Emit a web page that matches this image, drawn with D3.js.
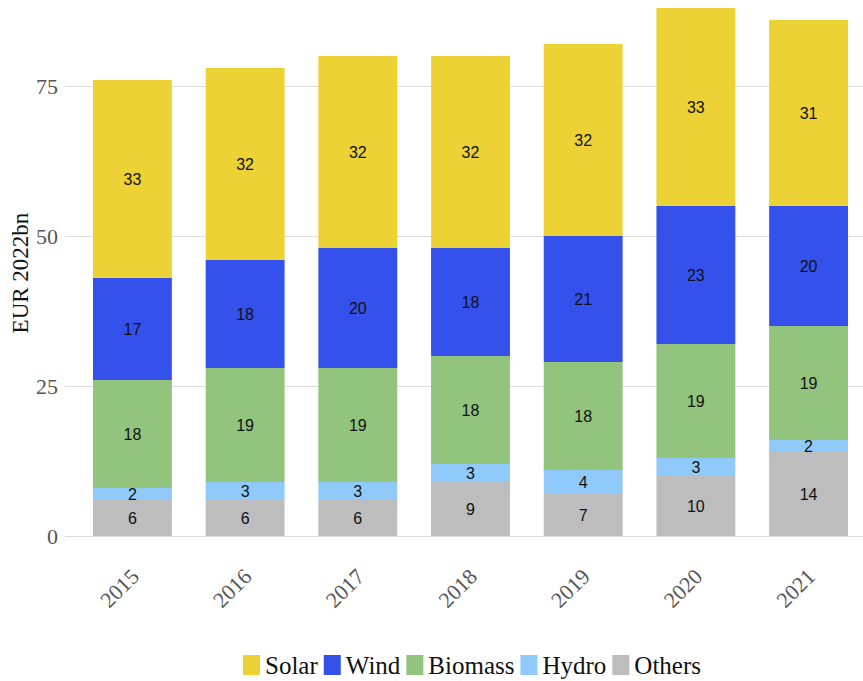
<!DOCTYPE html>
<html>
<head>
<meta charset="utf-8">
<script src="https://cdn.jsdelivr.net/npm/d3@7"></script>
<style>
  body { margin: 0; background: #fff; }
  svg { display: block; }
</style>
</head>
<body>
<svg id="chart" width="863" height="681"></svg>
<script>
var years = ["2015", "2016", "2017", "2018", "2019", "2020", "2021"];
var series = ["Others", "Hydro", "Biomass", "Wind", "Solar"];
var others  = [6, 6, 6, 9, 7, 10, 14];
var hydro   = [2, 3, 3, 3, 4, 3, 2];
var biomass = [18, 19, 19, 18, 18, 19, 19];
var wind    = [17, 18, 20, 18, 21, 23, 20];
var solar   = [33, 32, 32, 32, 32, 33, 31];
var yTicks = [0, 25, 50, 75];
var legendOrder = ["Solar", "Wind", "Biomass", "Hydro", "Others"];

var colors = {
    "Solar": "#ecd234",
    "Wind": "#3452eb",
    "Biomass": "#93c47d",
    "Hydro": "#8fcafb",
    "Others": "#bdbdbd"
};

var table = years.map(function(y, i) {
    return {year: y, Others: others[i], Hydro: hydro[i], Biomass: biomass[i], Wind: wind[i], Solar: solar[i]};
});

var svg = d3.select("#chart");
var serif = "'Liberation Serif', 'Times New Roman', serif";
var sans = "'Liberation Sans', Arial, sans-serif";

var xScale = d3.scaleBand()
    .domain(years)
    .range([78, 863])
    .paddingInner(0.3)
    .paddingOuter(0.133);

var yScale = d3.scaleLinear()
    .domain([0, 75])
    .range([536, 86]);

// grid
svg.append("g")
    .selectAll("line")
    .data(yTicks)
    .enter()
    .append("line")
    .attr("x1", 65)
    .attr("x2", 863)
    .attr("y1", function(d) { return yScale(d) + 0.5; })
    .attr("y2", function(d) { return yScale(d) + 0.5; })
    .attr("stroke", "#dddddd")
    .attr("stroke-width", 1);

// y tick labels
svg.append("g")
    .selectAll("text")
    .data(yTicks)
    .enter()
    .append("text")
    .attr("x", 58)
    .attr("y", function(d) { return yScale(d); })
    .attr("dy", "0.35em")
    .attr("text-anchor", "end")
    .style("font-family", serif)
    .style("font-size", "22px")
    .style("fill", "#555")
    .text(function(d) { return d; });

svg.append("text")
    .attr("transform", "translate(28,273) rotate(-90)")
    .attr("text-anchor", "middle")
    .style("font-family", serif)
    .style("font-size", "23px")
    .style("fill", "#111")
    .text("EUR 2022bn");

var stacked = d3.stack().keys(series)(table);

var layers = svg.append("g")
    .selectAll("g")
    .data(stacked)
    .enter()
    .append("g")
    .attr("fill", function(d) { return colors[d.key]; });

layers.selectAll("rect")
    .data(function(d) { return d; })
    .enter()
    .append("rect")
    .attr("x", function(d) { return xScale(d.data.year); })
    .attr("width", xScale.bandwidth())
    .attr("y", function(d) { return yScale(d[1]); })
    .attr("height", function(d) { return yScale(d[0]) - yScale(d[1]); });

layers.selectAll("text")
    .data(function(d) { return d; })
    .enter()
    .append("text")
    .attr("x", function(d) { return xScale(d.data.year) + xScale.bandwidth() / 2; })
    .attr("y", function(d) { return (yScale(d[0]) + yScale(d[1])) / 2; })
    .attr("dy", "0.36em")
    .attr("text-anchor", "middle")
    .style("font-family", sans)
    .style("font-size", "16px")
    .style("fill", "#111")
    .text(function(d) { return d[1] - d[0]; });

// x tick labels
svg.append("g")
    .selectAll("text")
    .data(years)
    .enter()
    .append("text")
    .attr("transform", function(d) {
        return "translate(" + (xScale(d) + xScale.bandwidth() / 2 + 8) + ",578) rotate(-45)";
    })
    .attr("text-anchor", "end")
    .style("font-family", serif)
    .style("font-size", "22px")
    .style("fill", "#555")
    .text(function(d) { return d; });

// legend
var legend = svg.append("g");
var lx = 0;
legendOrder.forEach(function(k) {
    var g = legend.append("g").attr("transform", "translate(" + lx + ",0)");
    g.append("rect")
        .attr("x", 0)
        .attr("y", 655)
        .attr("width", 17)
        .attr("height", 20)
        .attr("fill", colors[k]);
    var t = g.append("text")
        .attr("x", 22)
        .attr("y", 674)
        .style("font-family", serif)
        .style("font-size", "25px")
        .style("fill", "#111")
        .text(k);
    lx += 22 + t.node().getComputedTextLength() + 6;
});
var lw = lx - 6;
legend.attr("transform", "translate(" + (472 - lw / 2) + ",0)");
</script>
</body>
</html>
